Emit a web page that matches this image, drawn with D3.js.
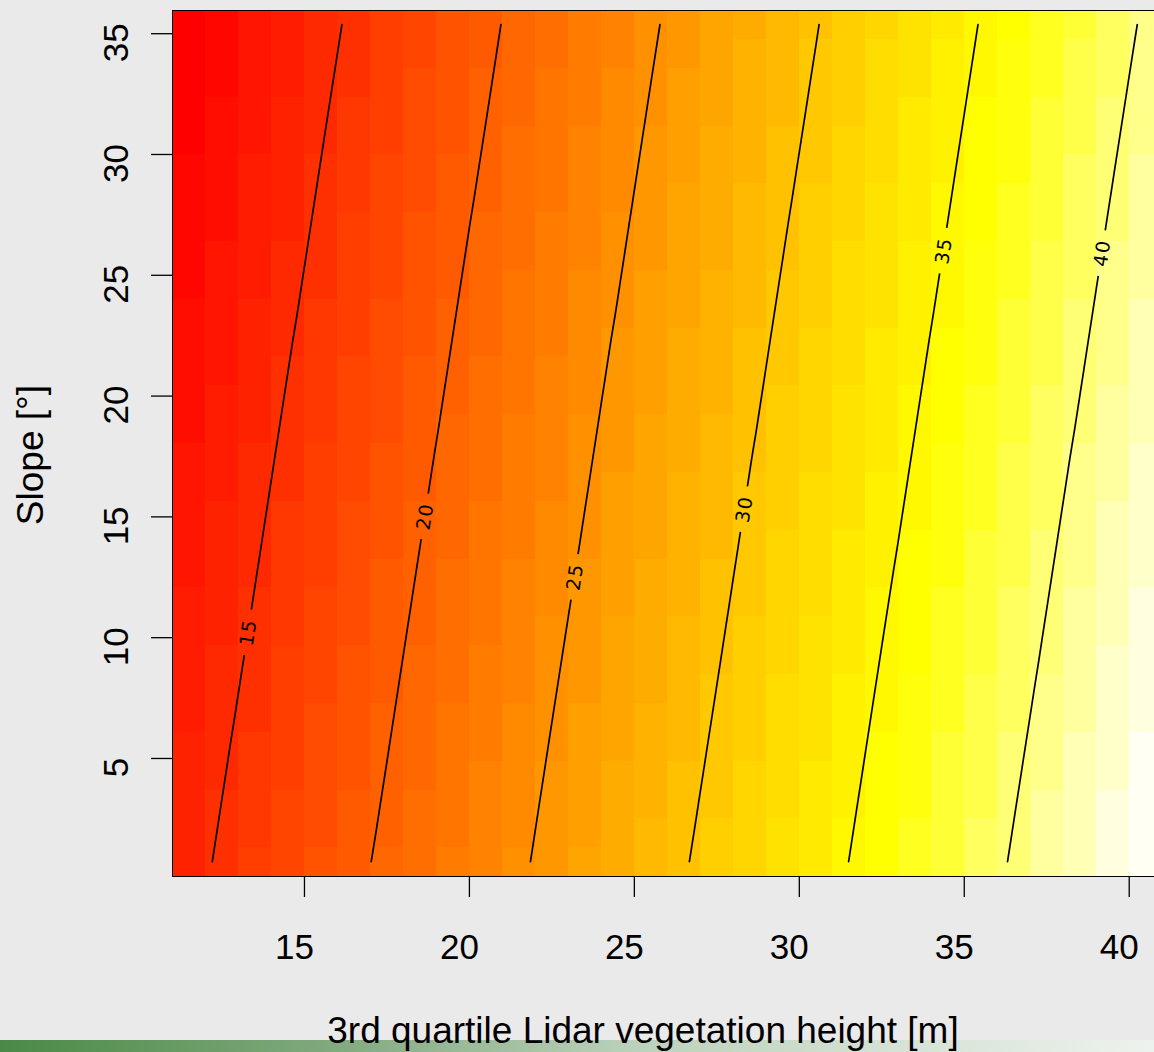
<!DOCTYPE html>
<html>
<head>
<meta charset="utf-8">
<script src="https://cdn.jsdelivr.net/npm/d3@7"></script>
<style>
  body { margin: 0; background: #eaeaea; }
  svg { display: block; font-family: "Liberation Sans", Arial, sans-serif; }
</style>
</head>
<body>
<div id="chart"></div>
<script>
// grid centres (x = Lidar height, y = slope)
let gridX = [11.5, 12.5, 13.5, 14.5, 15.5, 16.5, 17.5, 18.5, 19.5, 20.5,
             21.5, 22.5, 23.5, 24.5, 25.5, 26.5, 27.5, 28.5, 29.5, 30.5,
             31.5, 32.5, 33.5, 34.5, 35.5, 36.5, 37.5, 38.5, 39.5, 40.5];
let gridY = [0.71, 1.90, 3.10, 4.29, 5.49, 6.68, 7.88, 9.07, 10.27, 11.46,
             12.66, 13.85, 15.05, 16.24, 17.44, 18.63, 19.83, 21.02, 22.22, 23.41,
             24.61, 25.80, 27.00, 28.19, 29.39, 30.58, 31.77, 32.97, 34.16, 35.36];

// predicted values, one row per slope value (bottom row first)
let zRows = [
  [14.25,15.29,16.33,17.36,18.40,19.44,20.48,21.51,22.55,23.59,24.62,25.66,26.70,27.73,28.77,29.81,30.85,31.88,32.92,33.96,34.99,36.03,37.07,38.10,39.14,40.18,41.22,42.25,43.29,44.33],
  [14.11,15.15,16.19,17.22,18.26,19.30,20.33,21.37,22.41,23.45,24.48,25.52,26.56,27.59,28.63,29.67,30.70,31.74,32.78,33.82,34.85,35.89,36.93,37.96,39.00,40.04,41.07,42.11,43.15,44.19],
  [13.97,15.01,16.05,17.08,18.12,19.16,20.19,21.23,22.27,23.31,24.34,25.38,26.42,27.45,28.49,29.53,30.56,31.60,32.64,33.68,34.71,35.75,36.79,37.82,38.86,39.90,40.93,41.97,43.01,44.05],
  [13.83,14.87,15.91,16.94,17.98,19.02,20.05,21.09,22.13,23.16,24.20,25.24,26.28,27.31,28.35,29.39,30.42,31.46,32.50,33.53,34.57,35.61,36.65,37.68,38.72,39.76,40.79,41.83,42.87,43.90],
  [13.69,14.73,15.77,16.80,17.84,18.88,19.91,20.95,21.99,23.02,24.06,25.10,26.14,27.17,28.21,29.25,30.28,31.32,32.36,33.39,34.43,35.47,36.51,37.54,38.58,39.62,40.65,41.69,42.73,43.76],
  [13.55,14.59,15.62,16.66,17.70,18.74,19.77,20.81,21.85,22.88,23.92,24.96,25.99,27.03,28.07,29.11,30.14,31.18,32.22,33.25,34.29,35.33,36.36,37.40,38.44,39.48,40.51,41.55,42.59,43.62],
  [13.41,14.45,15.48,16.52,17.56,18.60,19.63,20.67,21.71,22.74,23.78,24.82,25.85,26.89,27.93,28.97,30.00,31.04,32.08,33.11,34.15,35.19,36.22,37.26,38.30,39.34,40.37,41.41,42.45,43.48],
  [13.27,14.31,15.34,16.38,17.42,18.45,19.49,20.53,21.57,22.60,23.64,24.68,25.71,26.75,27.79,28.82,29.86,30.90,31.94,32.97,34.01,35.05,36.08,37.12,38.16,39.19,40.23,41.27,42.31,43.34],
  [13.13,14.17,15.20,16.24,17.28,18.31,19.35,20.39,21.43,22.46,23.50,24.54,25.57,26.61,27.65,28.68,29.72,30.76,31.80,32.83,33.87,34.91,35.94,36.98,38.02,39.05,40.09,41.13,42.17,43.20],
  [12.99,14.03,15.06,16.10,17.14,18.17,19.21,20.25,21.28,22.32,23.36,24.40,25.43,26.47,27.51,28.54,29.58,30.62,31.65,32.69,33.73,34.77,35.80,36.84,37.88,38.91,39.95,40.99,42.02,43.06],
  [12.85,13.89,14.92,15.96,17.00,18.03,19.07,20.11,21.14,22.18,23.22,24.26,25.29,26.33,27.37,28.40,29.44,30.48,31.51,32.55,33.59,34.63,35.66,36.70,37.74,38.77,39.81,40.85,41.88,42.92],
  [12.71,13.74,14.78,15.82,16.86,17.89,18.93,19.97,21.00,22.04,23.08,24.11,25.15,26.19,27.23,28.26,29.30,30.34,31.37,32.41,33.45,34.48,35.52,36.56,37.60,38.63,39.67,40.71,41.74,42.78],
  [12.57,13.60,14.64,15.68,16.72,17.75,18.79,19.83,20.86,21.90,22.94,23.97,25.01,26.05,27.09,28.12,29.16,30.20,31.23,32.27,33.31,34.34,35.38,36.42,37.46,38.49,39.53,40.57,41.60,42.64],
  [12.43,13.46,14.50,15.54,16.57,17.61,18.65,19.69,20.72,21.76,22.80,23.83,24.87,25.91,26.94,27.98,29.02,30.06,31.09,32.13,33.17,34.20,35.24,36.28,37.31,38.35,39.39,40.43,41.46,42.50],
  [12.29,13.32,14.36,15.40,16.43,17.47,18.51,19.55,20.58,21.62,22.66,23.69,24.73,25.77,26.80,27.84,28.88,29.92,30.95,31.99,33.03,34.06,35.10,36.14,37.17,38.21,39.25,40.29,41.32,42.36],
  [12.15,13.18,14.22,15.26,16.29,17.33,18.37,19.40,20.44,21.48,22.52,23.55,24.59,25.63,26.66,27.70,28.74,29.77,30.81,31.85,32.89,33.92,34.96,36.00,37.03,38.07,39.11,40.14,41.18,42.22],
  [12.01,13.04,14.08,15.12,16.15,17.19,18.23,19.26,20.30,21.34,22.38,23.41,24.45,25.49,26.52,27.56,28.60,29.63,30.67,31.71,32.75,33.78,34.82,35.86,36.89,37.93,38.97,40.00,41.04,42.08],
  [11.86,12.90,13.94,14.98,16.01,17.05,18.09,19.12,20.16,21.20,22.23,23.27,24.31,25.35,26.38,27.42,28.46,29.49,30.53,31.57,32.60,33.64,34.68,35.72,36.75,37.79,38.83,39.86,40.90,41.94],
  [11.72,12.76,13.80,14.84,15.87,16.91,17.95,18.98,20.02,21.06,22.09,23.13,24.17,25.21,26.24,27.28,28.32,29.35,30.39,31.43,32.46,33.50,34.54,35.58,36.61,37.65,38.69,39.72,40.76,41.80],
  [11.58,12.62,13.66,14.69,15.73,16.77,17.81,18.84,19.88,20.92,21.95,22.99,24.03,25.06,26.10,27.14,28.18,29.21,30.25,31.29,32.32,33.36,34.40,35.43,36.47,37.51,38.55,39.58,40.62,41.66],
  [11.44,12.48,13.52,14.55,15.59,16.63,17.67,18.70,19.74,20.78,21.81,22.85,23.89,24.92,25.96,27.00,28.04,29.07,30.11,31.15,32.18,33.22,34.26,35.29,36.33,37.37,38.41,39.44,40.48,41.52],
  [11.30,12.34,13.38,14.41,15.45,16.49,17.52,18.56,19.60,20.64,21.67,22.71,23.75,24.78,25.82,26.86,27.89,28.93,29.97,31.01,32.04,33.08,34.12,35.15,36.19,37.23,38.26,39.30,40.34,41.38],
  [11.16,12.20,13.24,14.27,15.31,16.35,17.38,18.42,19.46,20.50,21.53,22.57,23.61,24.64,25.68,26.72,27.75,28.79,29.83,30.87,31.90,32.94,33.98,35.01,36.05,37.09,38.12,39.16,40.20,41.24],
  [11.02,12.06,13.10,14.13,15.17,16.21,17.24,18.28,19.32,20.35,21.39,22.43,23.47,24.50,25.54,26.58,27.61,28.65,29.69,30.72,31.76,32.80,33.84,34.87,35.91,36.95,37.98,39.02,40.06,41.09],
  [10.88,11.92,12.96,13.99,15.03,16.07,17.10,18.14,19.18,20.21,21.25,22.29,23.33,24.36,25.40,26.44,27.47,28.51,29.55,30.58,31.62,32.66,33.70,34.73,35.77,36.81,37.84,38.88,39.92,40.95],
  [10.74,11.78,12.81,13.85,14.89,15.93,16.96,18.00,19.04,20.07,21.11,22.15,23.18,24.22,25.26,26.30,27.33,28.37,29.41,30.44,31.48,32.52,33.55,34.59,35.63,36.67,37.70,38.74,39.78,40.81],
  [10.60,11.64,12.67,13.71,14.75,15.79,16.82,17.86,18.90,19.93,20.97,22.01,23.04,24.08,25.12,26.16,27.19,28.23,29.27,30.30,31.34,32.38,33.41,34.45,35.49,36.53,37.56,38.60,39.64,40.67],
  [10.46,11.50,12.53,13.57,14.61,15.64,16.68,17.72,18.76,19.79,20.83,21.87,22.90,23.94,24.98,26.01,27.05,28.09,29.13,30.16,31.20,32.24,33.27,34.31,35.35,36.38,37.42,38.46,39.50,40.53],
  [10.32,11.36,12.39,13.43,14.47,15.50,16.54,17.58,18.62,19.65,20.69,21.73,22.76,23.80,24.84,25.87,26.91,27.95,28.99,30.02,31.06,32.10,33.13,34.17,35.21,36.24,37.28,38.32,39.36,40.39],
  [10.18,11.22,12.25,13.29,14.33,15.36,16.40,17.44,18.47,19.51,20.55,21.59,22.62,23.66,24.70,25.73,26.77,27.81,28.84,29.88,30.92,31.96,32.99,34.03,35.07,36.10,37.14,38.18,39.21,40.25]
];

let contourLevels = [15, 20, 25, 30, 35, 40];
let labelAtSlope = [10.2, 15.0, 12.5, 15.3, 26.0, 25.9];
let xTicks = [15, 20, 25, 30, 35, 40];
let yTicks = [5, 10, 15, 20, 25, 30, 35];
let xTitle = "3rd quartile Lidar vegetation height [m]";
let yTitle = "Slope [°]";

let width = 1154, height = 1052;
let plotLeft = 172, plotTop = 10, plotBottom = 876;

// R's heat.colors(n)
function heatColors(n) {
    let j = Math.floor(n / 4);
    let i = n - j;
    let cols = [];
    for (let k = 0; k < i; k++) {
        let h = (1 / 6) * k / (i - 1);
        cols.push(d3.rgb(255, Math.round(255 * 6 * h), 0).formatHex());
    }
    let s0 = 1 - 1 / (2 * j), s1 = 1 / (2 * j);
    for (let m = 0; m < j; m++) {
        let s = s0 - m * (s0 - s1) / (j - 1);
        cols.push(d3.rgb(255, 255, Math.round(255 * (1 - s))).formatHex());
    }
    return cols;
}

// cell edges = half way between centres
function edges(c) {
    let e = [c[0] - (c[1] - c[0]) / 2];
    for (let k = 1; k < c.length; k++) e.push((c[k - 1] + c[k]) / 2);
    e.push(c[c.length - 1] + (c[c.length - 1] - c[c.length - 2]) / 2);
    return e;
}

let xEdges = edges(gridX);
let yEdges = edges(gridY);

let x = d3.scaleLinear()
    .domain([xEdges[0], xEdges[xEdges.length - 1]])
    .range([plotLeft, plotLeft + 32.99 * (xEdges[xEdges.length - 1] - xEdges[0])]);
let y = d3.scaleLinear()
    .domain([yEdges[0], yEdges[yEdges.length - 1]])
    .range([plotBottom, plotTop]);

let allZ = zRows.flat();
let color = d3.scaleQuantize()
    .domain(d3.extent(allZ))
    .range(heatColors(50));

let svg = d3.select("#chart").append("svg")
    .attr("width", width)
    .attr("height", height);

// slide background strip at the bottom
let grad = svg.append("defs").append("linearGradient").attr("id", "greenBar");
grad.append("stop").attr("offset", "0").attr("stop-color", "#4a8a45");
grad.append("stop").attr("offset", "0.3").attr("stop-color", "#83ab81");
grad.append("stop").attr("offset", "0.55").attr("stop-color", "#bcd1bb");
grad.append("stop").attr("offset", "1").attr("stop-color", "#eef2ee");
svg.append("rect")
    .attr("x", 0).attr("y", 1040)
    .attr("width", width).attr("height", 12)
    .style("fill", "url(#greenBar)");

// cells
let cells = [];
for (let j = 0; j < gridY.length; j++) {
    for (let i = 0; i < gridX.length; i++) {
        cells.push({i: i, j: j, z: zRows[j][i]});
    }
}

svg.append("g")
    .selectAll("rect")
    .data(cells)
    .enter().append("rect")
    .attr("x", function(d) { return x(xEdges[d.i]); })
    .attr("y", function(d) { return y(yEdges[d.j + 1]); })
    .attr("width", function(d) { return x(xEdges[d.i + 1]) - x(xEdges[d.i]); })
    .attr("height", function(d) { return y(yEdges[d.j]) - y(yEdges[d.j + 1]); })
    .attr("shape-rendering", "crispEdges")
    .style("fill", function(d) { return color(d.z); });

// marching squares, one segment per grid square
function contourSegments(level) {
    let segs = [];
    for (let j = 0; j < gridY.length - 1; j++) {
        for (let i = 0; i < gridX.length - 1; i++) {
            let corners = [
                [gridX[i], gridY[j], zRows[j][i]],
                [gridX[i + 1], gridY[j], zRows[j][i + 1]],
                [gridX[i + 1], gridY[j + 1], zRows[j + 1][i + 1]],
                [gridX[i], gridY[j + 1], zRows[j + 1][i]]
            ];
            let pts = [];
            for (let k = 0; k < 4; k++) {
                let a = corners[k], b = corners[(k + 1) % 4];
                if ((a[2] - level) * (b[2] - level) < 0 || (a[2] == level && b[2] != level)) {
                    let t = (level - a[2]) / (b[2] - a[2]);
                    pts.push([a[0] + t * (b[0] - a[0]), a[1] + t * (b[1] - a[1])]);
                }
            }
            if (pts.length >= 2) segs.push([pts[0], pts[1]]);
            if (pts.length == 4) segs.push([pts[2], pts[3]]);
        }
    }
    return segs;
}

let contourData = contourLevels.map(function(level, n) {
    let segs = contourSegments(level);
    let yl = labelAtSlope[n];
    let lab = null;
    segs.forEach(function(s) {
        let lo = Math.min(s[0][1], s[1][1]), hi = Math.max(s[0][1], s[1][1]);
        if (!lab && yl >= lo && yl <= hi) {
            let t = (yl - s[0][1]) / (s[1][1] - s[0][1]);
            let px = x(s[0][0] + t * (s[1][0] - s[0][0]));
            let a = [x(s[0][0]), y(s[0][1])], b = [x(s[1][0]), y(s[1][1])];
            if (b[1] > a[1]) { let tmp = a; a = b; b = tmp; }
            let angle = Math.atan2(b[1] - a[1], b[0] - a[0]) * 180 / Math.PI;
            lab = {x: px, y: y(yl), angle: angle, text: String(level)};
        }
    });
    return {level: level, segs: segs, label: lab};
});

// gaps in the lines where labels sit
let mask = svg.select("defs").append("mask").attr("id", "labelGaps");
mask.append("rect").attr("width", width).attr("height", height).style("fill", "white");
mask.selectAll("rect.gap")
    .data(contourData.filter(function(d) { return d.label; }))
    .enter().append("rect")
    .attr("class", "gap")
    .attr("x", -23).attr("y", -9)
    .attr("width", 46).attr("height", 18)
    .attr("transform", function(d) { return "translate(" + d.label.x + "," + d.label.y + ") rotate(" + d.label.angle + ")"; })
    .style("fill", "black");

let lines = svg.append("g").attr("mask", "url(#labelGaps)");
contourData.forEach(function(c) {
    lines.append("path")
        .attr("d", c.segs.map(function(s) {
            return "M" + x(s[0][0]) + "," + y(s[0][1]) + "L" + x(s[1][0]) + "," + y(s[1][1]);
        }).join(""))
        .style("fill", "none")
        .style("stroke", "black")
        .style("stroke-width", 1.7)
        .style("stroke-linecap", "round");
});

svg.append("g")
    .selectAll("text")
    .data(contourData.filter(function(d) { return d.label; }))
    .enter().append("text")
    .attr("transform", function(d) { return "translate(" + d.label.x + "," + d.label.y + ") rotate(" + d.label.angle + ")"; })
    .attr("text-anchor", "middle")
    .attr("dy", "0.36em")
    .style("font-family", "'DejaVu Sans', sans-serif")
    .style("font-size", "19px")
    .style("letter-spacing", "1.5px")
    .style("fill", "black")
    .text(function(d) { return d.label.text; });

// plot frame
svg.append("rect")
    .attr("x", plotLeft).attr("y", plotTop)
    .attr("width", x.range()[1] - plotLeft)
    .attr("height", plotBottom - plotTop)
    .attr("shape-rendering", "crispEdges")
    .style("fill", "none")
    .style("stroke", "black")
    .style("stroke-width", 1);

// axes
let xAxis = svg.append("g")
    .attr("transform", "translate(0," + plotBottom + ")")
    .call(d3.axisBottom(x).tickValues(xTicks).tickSize(21).tickFormat(d3.format("d")));
xAxis.select(".domain").remove();
xAxis.selectAll("line").style("stroke", "black").style("stroke-width", 1.3);
xAxis.selectAll("text")
    .attr("x", -10).attr("y", 83).attr("dy", 0)
    .style("font-size", "35px")
    .style("font-family", "'Liberation Sans', Arial, sans-serif")
    .style("fill", "black");

let yAxis = svg.append("g")
    .attr("transform", "translate(" + plotLeft + ",0)")
    .call(d3.axisLeft(y).tickValues(yTicks).tickSize(21).tickFormat(d3.format("d")));
yAxis.select(".domain").remove();
yAxis.selectAll("line").style("stroke", "black").style("stroke-width", 1.3);
yAxis.selectAll("text")
    .attr("transform", "rotate(-90)")
    .attr("x", -9).attr("y", -44).attr("dy", 0)
    .attr("text-anchor", "middle")
    .style("font-size", "35px")
    .style("font-family", "'Liberation Sans', Arial, sans-serif")
    .style("fill", "black");

// titles
svg.append("text")
    .attr("x", 643).attr("y", 1043)
    .attr("text-anchor", "middle")
    .style("font-size", "37px")
    .style("fill", "black")
    .text(xTitle);

svg.append("text")
    .attr("transform", "translate(43,455) rotate(-90)")
    .attr("text-anchor", "middle")
    .style("font-size", "37px")
    .style("fill", "black")
    .text(yTitle);
</script>
</body>
</html>
